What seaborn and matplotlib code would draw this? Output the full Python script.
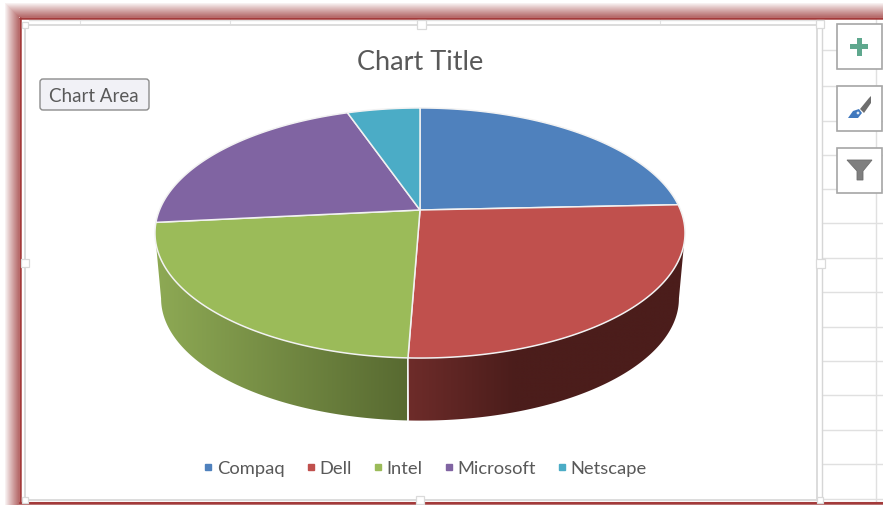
import numpy as np
import matplotlib
matplotlib.use("Agg")
import matplotlib.pyplot as plt
from matplotlib.patches import Polygon, Rectangle, FancyBboxPatch, Circle
from matplotlib.lines import Line2D
from matplotlib.colors import to_rgb
import seaborn as sns

# Pie data
categories = ["Compaq", "Dell", "Intel", "Microsoft", "Netscape"]
shares = [24.3, 26.3, 22.8, 21.3, 5.3]
slice_colors = ["#4F81BD", "#C0504D", "#9BBB59", "#8064A2", "#4BACC6"]

chart_title = "Chart Title"
tag_text = "Chart Area"

sns.set_theme(style="white")
plt.rcParams["font.family"] = ["Lato", "DejaVu Sans"]
palette = sns.color_palette(slice_colors)
TEXT = "#595959"

W, H = 883, 506
fig = plt.figure(figsize=(W / 100, H / 100), dpi=100)
ax = fig.add_axes([0, 0, 1, 1])
ax.axis("off")

# --- window surroundings ---------------------------------------------------
yy, xx = np.mgrid[0:H, 0:W]
dist = np.maximum.reduce([19 - xx, 18 - yy, yy - 503, np.zeros_like(xx)])
glow = np.ones((H, W, 4))
glow[..., :3] = to_rgb("#B26464")
glow[..., 3] = np.clip(1 - dist / 15, 0, 1) ** 0.9 * (dist > 0)
ax.imshow(glow, extent=(0, W, H, 0), zorder=1, aspect="auto", interpolation="bilinear")

GRID = "#E0E0E0"
for gy in [51, 87, 122, 156, 190, 224, 259, 293, 328, 362, 396, 431, 465, 500]:
    ax.plot([822, W], [gy, gy], color=GRID, lw=1.0, zorder=2)
ax.plot([876, 876], [20, 503], color=GRID, lw=1.0, zorder=2)
ax.plot([29, 818], [21, 21], color="#E2E2E2", lw=1.0, zorder=2)
for gx in [80, 230, 660]:
    ax.plot([gx, gx], [20, 25], color="#E2E2E2", lw=0.8, zorder=2)

ax.plot([20, 20], [19, 503], color="#A33A3A", lw=1.8, zorder=4)
ax.plot([20, W], [19, 19], color="#A33A3A", lw=1.8, zorder=4)
ax.plot([20, W], [504, 504], color="#A33A3A", lw=1.5, zorder=4)

# chart frame and its resize handles
ax.add_patch(Rectangle((25, 26), 792, 475, fc="white", ec="#DCDCDC", lw=1.4, zorder=3))
ax.plot([822, 822], [26, 503], color="#D6D6D6", lw=1.0, zorder=3)
for hx, hy, size in [(25, 26, 6), (421, 25, 9), (820, 25, 8), (25, 264, 8), (820, 264, 9),
                     (25, 501, 6), (420, 501, 8), (820, 501, 6)]:
    ax.add_patch(Rectangle((hx - size / 2, hy - size / 2), size, size,
                           fc="white", ec="#DADADA", lw=0.9, zorder=5))

# --- 3-D pie ---------------------------------------------------------------
CX, CY, TILT = 420.0, 211.0, 0.184
# rim angles where the perspective outline of the disc is widest
SILHOUETTE = np.arccos(-TILT)


def project(theta, x_scale, y_scale, y_center):
    """Perspective view of a point on the pie rim; theta runs clockwise from the top."""
    u, v = np.sin(theta), np.cos(theta)
    w = 1 + TILT * v
    return CX + x_scale * u / w, y_center - y_scale * v / w


def top_rim(theta):
    return project(theta, 260.5, 120.8, CY)


def base_rim(theta):
    return project(theta, 254.5, 118.0, CY + 66.0)


edges = np.deg2rad(np.concatenate([[0], np.cumsum(shares)]) * 3.6)

# side walls: a horizontal colour ramp clipped to each wall's outline
wall_ramps = {
    1: [(407, "#6E2C2A"), (515, "#4B1D1B"), (690, "#4B1D1B")],
    2: [(150, "#8FAB55"), (407, "#586A31")],
}
for i, stops in wall_ramps.items():
    start = max(edges[i], SILHOUETTE)
    stop = min(edges[i + 1], 2 * np.pi - SILHOUETTE)
    arc = np.linspace(start, stop, 240)
    tx, ty = top_rim(arc)
    bx, by = base_rim(arc)
    outline = np.column_stack([np.r_[tx, bx[::-1]], np.r_[ty, by[::-1]]])
    wall = Polygon(outline, closed=True, fc="none", ec="none", transform=ax.transData, zorder=6)
    ax.add_patch(wall)
    x0, x1 = stops[0][0], stops[-1][0]
    xs = np.arange(x0, x1 + 1)
    ramp = np.column_stack([
        np.interp(xs, [s[0] for s in stops], [to_rgb(s[1])[c] for s in stops]) for c in range(3)
    ])[np.newaxis, ...]
    img = ax.imshow(ramp, extent=(x0, x1, 430, 200), aspect="auto", zorder=6, interpolation="bilinear")
    img.set_clip_path(wall)

ax.set_xlim(0, W)
ax.set_ylim(H, 0)

# seam between the two visible wall sections
sx, sy = top_rim(edges[2])
bx, by = base_rim(edges[2])
ax.plot([sx, bx], [sy, by], color="#EDEDED", lw=1.1, zorder=7)

# top face
for i, color in enumerate(palette):
    arc = np.linspace(edges[i], edges[i + 1], 160)
    rx, ry = top_rim(arc)
    pts = [(CX, CY)] + list(zip(rx, ry))
    ax.add_patch(Polygon(pts, closed=True, fc=color, ec="#F2F2F2", lw=1.1, joinstyle="round", zorder=8))

# --- text ------------------------------------------------------------------
ax.text(420, 62, chart_title, ha="center", va="center", fontsize=19.5, color=TEXT, zorder=10)

ax.add_patch(FancyBboxPatch((42, 82), 105, 27, boxstyle="round,pad=2,rounding_size=3",
                            fc="#F1F1F6", ec="#8C8C8C", lw=1.0, zorder=10))
ax.text(93.5, 96, tag_text, ha="center", va="center", fontsize=13.5, color=TEXT, zorder=11)

handles = [Line2D([], [], ls="", marker="s", ms=5, color=c) for c in palette]
ax.legend(handles, categories, loc="center", bbox_to_anchor=(423 / W, 1 - 469 / H), ncol=5,
          frameon=False, fontsize=13.2, labelcolor=TEXT, handletextpad=-0.05,
          columnspacing=0.95, handlelength=1.0).set_zorder(10)

# --- side buttons ----------------------------------------------------------
for top in (25, 87, 149):
    ax.add_patch(Rectangle((837, top), 45, 45, fc="white", ec="#A6A6A6", lw=1.2, zorder=5))

ax.add_patch(Rectangle((850, 45), 18, 5, fc="#5FA88E", ec="none", zorder=6))
ax.add_patch(Rectangle((856.5, 38.5), 5, 18, fc="#5FA88E", ec="none", zorder=6))

ax.add_patch(Polygon([(860, 110), (869, 99), (871, 97), (871, 104), (864, 114)],
                     fc="#6E6E6E", ec="none", zorder=6))
ax.add_patch(Polygon([(848, 119), (853, 112), (859, 110), (862, 114), (858, 119)],
                     fc="#3F78BE", ec="none", zorder=6))
ax.add_patch(Circle((858, 114), 1.4, fc="#DDE8F5", ec="none", zorder=7))

ax.add_patch(Polygon([(847, 161), (872, 161), (863, 172), (863, 181), (857, 181), (857, 172)],
                     fc="#7F7F7F", ec="#6E6E6E", lw=0.6, zorder=6))

fig.savefig("out.png", dpi=100)
